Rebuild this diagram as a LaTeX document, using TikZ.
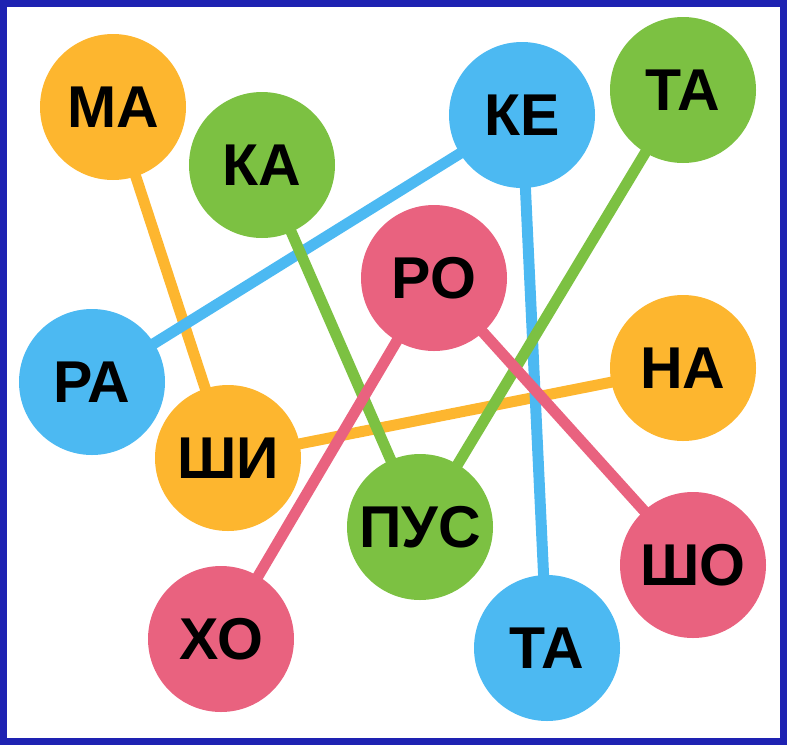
\documentclass[tikz,border=0pt]{standalone}
\usepackage{fontspec}
\setmainfont{Liberation Sans}
\usetikzlibrary{backgrounds}

\definecolor{sylorange}{HTML}{FDB62F}
\definecolor{sylgreen}{HTML}{7CC142}
\definecolor{sylblue}{HTML}{4CB9F2}
\definecolor{sylpink}{HTML}{E9627F}
\definecolor{frameblue}{HTML}{1E22B2}

\tikzset{
  syl/.style={circle, minimum size=146pt, inner sep=0pt, text=black,
    font=\bfseries\fontsize{59}{59}\selectfont},
  link/.style={line width=11pt}
}

\begin{document}
\begin{tikzpicture}[x=1pt,y=-1pt]
  \draw[frameblue, line width=7pt] (3.5,3.5) rectangle (783.5,741.5);

  \node[syl, fill=sylorange] (ma)  at (113,107) {МА};
  \node[syl, fill=sylgreen]  (ka)  at (262,165) {КА};
  \node[syl, fill=sylblue]   (ke)  at (522,115) {КЕ};
  \node[syl, fill=sylgreen]  (ta)  at (683,90)  {ТА};
  \node[syl, fill=sylpink]   (ro)  at (434,278) {РО};
  \node[syl, fill=sylblue]   (ra)  at (92,382)  {РА};
  \node[syl, fill=sylorange] (na)  at (683,368) {НА};
  \node[syl, fill=sylorange] (shi) at (228,458) {ШИ};
  \node[syl, fill=sylgreen]  (pus) at (420,527) {ПУС};
  \node[syl, fill=sylpink]   (sho) at (693,565) {ШО};
  \node[syl, fill=sylpink]   (kho) at (221,639) {ХО};
  \node[syl, fill=sylblue]   (tab) at (547,648) {ТА};

  \begin{pgfonlayer}{background}
    \draw[link, sylorange] (ma.center) -- (shi.center);
    \draw[link, sylorange] (shi.center) -- (na.center);
    \draw[link, sylblue] (ke.center) -- (ra.center);
    \draw[link, sylblue] (ke.center) -- (tab.center);
    \draw[link, sylgreen] (ka.center) -- (pus.center);
    \draw[link, sylgreen] (ta.center) -- (pus.center);
    \draw[link, sylpink] (ro.center) -- (kho.center);
    \draw[link, sylpink] (ro.center) -- (sho.center);
  \end{pgfonlayer}
\end{tikzpicture}
\end{document}
